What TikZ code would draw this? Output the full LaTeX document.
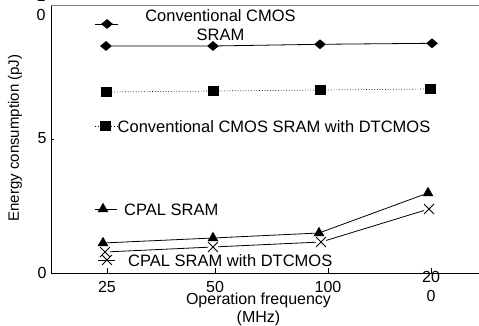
\documentclass[tikz,border=0pt]{standalone}
\usepackage{fontspec}
\setmainfont{Liberation Sans}
\usetikzlibrary{shapes.geometric, shapes.misc}

\begin{document}
\begin{tikzpicture}[
        x=1pt, y=1pt,
        every node/.style={font=\fontsize{16.5}{19}\selectfont},
        diamondmark/.style={
            % The shape:
            diamond,
            % The size:
            minimum width=12pt, minimum height=10pt, inner sep=0pt,
            % The filling
            fill=black
        },
        squaremark/.style={
            rectangle,
            minimum width=11pt, minimum height=10pt, inner sep=0pt,
            fill=black
        },
        trianglemark/.style={
            regular polygon, regular polygon sides=3,
            minimum size=12.5pt, inner sep=0pt,
            fill=black
        },
        crossmark/.style={
            cross out,
            minimum size=9pt, inner sep=0pt,
            draw=black, line width=0.9pt
        },
        tick/.style={inner sep=0pt, align=center, font=\fontsize{16}{19}\selectfont}
    ]

    \useasboundingbox (0,0) rectangle (479,326);

    % The frame
    \coordinate (o) at (51,53);
    \coordinate (top) at (51,320.3);
    \draw [black!50, line width=1pt] (top) -- (479,320.3);
    \draw [line width=0.9pt] (top) -- (o) -- (479,53);

    % Energy axis
    \draw (51,186.5) -- (54,186.5);
    \node [tick] (y0) at (42,53) {0};
    \node [tick] (y5) at (42,188) {5};
    \node [tick] (y10) at (41,320.3) {1\\0};
    \node [rotate=90, font=\fontsize{15}{18}\selectfont] (ylab) at (15,188) {Energy consumption (pJ)};

    % Frequency axis
    \foreach \x/\xtext/\xname in {107/25/f25, 215/50/f50, 328/100/f100, 431/20\\0/f200}
    {
        \draw (\x,53) -- (\x,58);
        \node [tick] (\xname) at (\x,39.5) {\xtext};
    }
    \node [align=center, inner sep=0pt, font=\fontsize{16}{18}\selectfont] (xlab) at (258.5,16.5) {Operation frequency\\(MHz)};

    % Conventional CMOS SRAM
    \foreach \x/\y/\xname in {106/280/d25, 213/280/d50, 320/281.7/d100, 432/282.7/d200}
        \node [diamondmark] (\xname) at (\x,\y) {};
    \draw [line width=0.8pt] (d25) -- (d50) -- (d100) -- (d200);

    % Conventional CMOS SRAM with DTCMOS
    \foreach \x/\y/\xname in {106/234/s25, 213/235/s50, 320/236/s100, 430/237/s200}
        \node [squaremark] (\xname) at (\x,\y) {};
    \draw [dotted, line width=0.7pt] (s25) -- (s50) -- (s100) -- (s200);

    % CPAL SRAM
    \foreach \x/\y/\xname in {103/83/t25, 213/88/t50, 319/93/t100, 428/133/t200}
        \node [trianglemark] (\xname) at (\x,\y) {};
    \draw [line width=0.8pt] (t25) -- (t50) -- (t100) -- (t200);

    % CPAL SRAM with DTCMOS
    \foreach \x/\y/\xname in {105/74/c25, 213/79/c50, 321/84/c100, 429/117/c200}
        \node [crossmark] (\xname) at (\x,\y) {};
    \draw [line width=0.8pt] (c25) -- (c50) -- (c100) -- (c200);

    % Legend
    \coordinate (ld) at (107,302);
    \draw [line width=0.8pt] ([xshift=-12pt]ld) -- ([xshift=11pt]ld);
    \node [diamondmark] (ldm) at (ld) {};
    \node [align=center, inner sep=0pt] (ldt) at (220.5,300.5) {Conventional CMOS\\SRAM};

    \coordinate (ls) at (105,200);
    \draw [dotted, line width=0.7pt] ([xshift=-10pt]ls) -- ([xshift=13pt]ls);
    \node [squaremark] (lsm) at (ls) {};
    \node [anchor=west, inner sep=0pt] (lst) at (117.5,199) {Conventional CMOS SRAM with DTCMOS};

    \coordinate (lt) at (103,117);
    \draw [line width=0.8pt] ([xshift=-8pt]lt) -- ([xshift=14pt]lt);
    \node [trianglemark] (ltm) at (lt) {};
    \node [anchor=west, inner sep=0pt] (ltt) at (124,116) {CPAL SRAM};

    \coordinate (lc) at (107,66);
    \draw [line width=0.8pt] ([xshift=-9pt]lc) -- ([xshift=8pt]lc);
    \node [crossmark] (lcm) at (lc) {};
    \node [anchor=west, inner sep=0pt] (lct) at (128,65) {CPAL SRAM with DTCMOS};

\end{tikzpicture}
\end{document}
